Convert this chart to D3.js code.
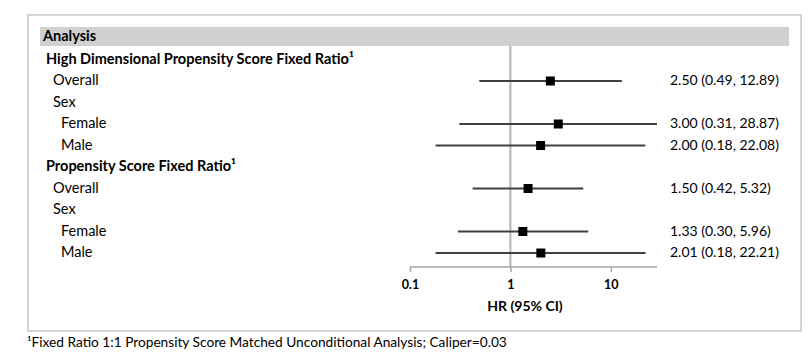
<!DOCTYPE html>
<html>
<head>
<meta charset="utf-8">
<script src="https://cdn.jsdelivr.net/npm/d3@7"></script>
<style>
    body { margin: 0; background: #fff; }
    svg text { font-family: Lato, "Open Sans", sans-serif; fill: #000; }
</style>
</head>
<body>
<div id="chart"></div>
<script>
    // rows of the table (label, indent level, bold)
    var labels = [
        "High Dimensional Propensity Score Fixed Ratio\u00b9",
        "Overall", "Sex", "Female", "Male",
        "Propensity Score Fixed Ratio\u00b9",
        "Overall", "Sex", "Female", "Male"
    ];
    var levels = [0, 1, 1, 2, 2, 0, 1, 1, 2, 2];
    // hazard ratios, null where the row has no estimate
    var hr    = [null, 2.50, null, 3.00, 2.00, null, 1.50, null, 1.33, 2.01];
    var lower = [null, 0.49, null, 0.31, 0.18, null, 0.42, null, 0.30, 0.18];
    var upper = [null, 12.89, null, 28.87, 22.08, null, 5.32, null, 5.96, 22.21];
    var tickValues = [0.1, 1, 10];
    var axisTitle = "HR (95% CI)";
    var footnote = "\u00b9Fixed Ratio 1:1 Propensity Score Matched Unconditional Analysis; Caliper=0.03";

    var width = 809, height = 362;
    var svg = d3.select("#chart").append("svg")
        .attr("width", width)
        .attr("height", height);

    // outer frame
    svg.append("rect")
        .attr("x", 28).attr("y", 15)
        .attr("width", 773).attr("height", 316)
        .attr("fill", "none")
        .attr("stroke", "#d4d4d4")
        .attr("stroke-width", 2);

    // header band
    svg.append("rect")
        .attr("x", 40).attr("y", 27)
        .attr("width", 749).attr("height", 19)
        .attr("fill", "#d0d0d0");
    svg.append("text")
        .attr("x", 43).attr("y", 41)
        .attr("font-size", "14.5px")
        .attr("font-weight", "bold")
        .text("Analysis");

    var rows = labels.map(function(l, i) {
        return { label: l, level: levels[i], hr: hr[i], lo: lower[i], hi: upper[i] };
    });

    var y = d3.scaleLinear().domain([0, rows.length - 1]).range([59.5, 253]);
    var x = d3.scaleLog()
        .domain([0.1, d3.max(upper)])
        .range([410, 657]);

    var indent = [46, 53, 61];

    svg.selectAll(".rowlabel")
        .data(rows)
        .enter().append("text")
        .attr("class", "rowlabel")
        .attr("x", function(d) { return indent[d.level]; })
        .attr("y", function(_, i) { return y(i) + 4; })
        .attr("font-size", "14.5px")
        .attr("font-weight", function(d) { return d.level === 0 ? "bold" : "normal"; })
        .text(function(d) { return d.label; });

    // reference line at HR = 1
    svg.append("line")
        .attr("x1", x(1)).attr("x2", x(1))
        .attr("y1", 46).attr("y2", 267)
        .attr("stroke", "#b4b4b4")
        .attr("stroke-width", 2);

    var est = rows.filter(function(d) { return d.hr !== null; });
    var g = svg.selectAll(".est")
        .data(est)
        .enter().append("g")
        .attr("class", "est")
        .attr("transform", function(d) { return "translate(0," + y(rows.indexOf(d)) + ")"; });

    g.append("line")
        .attr("x1", function(d) { return x(d.lo); })
        .attr("x2", function(d) { return x(d.hi); })
        .attr("stroke", "#404040")
        .attr("stroke-width", 2);

    g.append("rect")
        .attr("x", function(d) { return x(d.hr) - 4.5; })
        .attr("y", -4.5)
        .attr("width", 9).attr("height", 9)
        .attr("fill", "#000");

    g.append("text")
        .attr("x", 670)
        .attr("y", 4)
        .attr("font-size", "14px")
        .text(function(d) {
            return d.hr.toFixed(2) + " (" + d.lo.toFixed(2) + ", " + d.hi.toFixed(2) + ")";
        });

    // x axis
    var axis = svg.append("g")
        .attr("transform", "translate(0,267)")
        .call(d3.axisBottom(x).tickValues(tickValues).tickSize(5).tickPadding(8)
            .tickFormat(d3.format("~g")));
    axis.select(".domain").attr("stroke", "#a6a6a6").attr("stroke-width", 1.5)
        .attr("d", "M" + x.range()[0] + ",0H" + x.range()[1]);
    axis.selectAll(".tick line").attr("stroke", "#a6a6a6").attr("stroke-width", 1.5);
    axis.selectAll(".tick text")
        .attr("font-family", "Lato, sans-serif")
        .attr("font-size", "12.5px")
        .attr("font-weight", "bold")
        .attr("fill", "#000");

    svg.append("text")
        .attr("x", 525).attr("y", 311)
        .attr("text-anchor", "middle")
        .attr("font-size", "14px")
        .attr("font-weight", "bold")
        .text(axisTitle);

    svg.append("text")
        .attr("x", 27).attr("y", 347)
        .attr("font-size", "13.7px")
        .text(footnote);
</script>
</body>
</html>
